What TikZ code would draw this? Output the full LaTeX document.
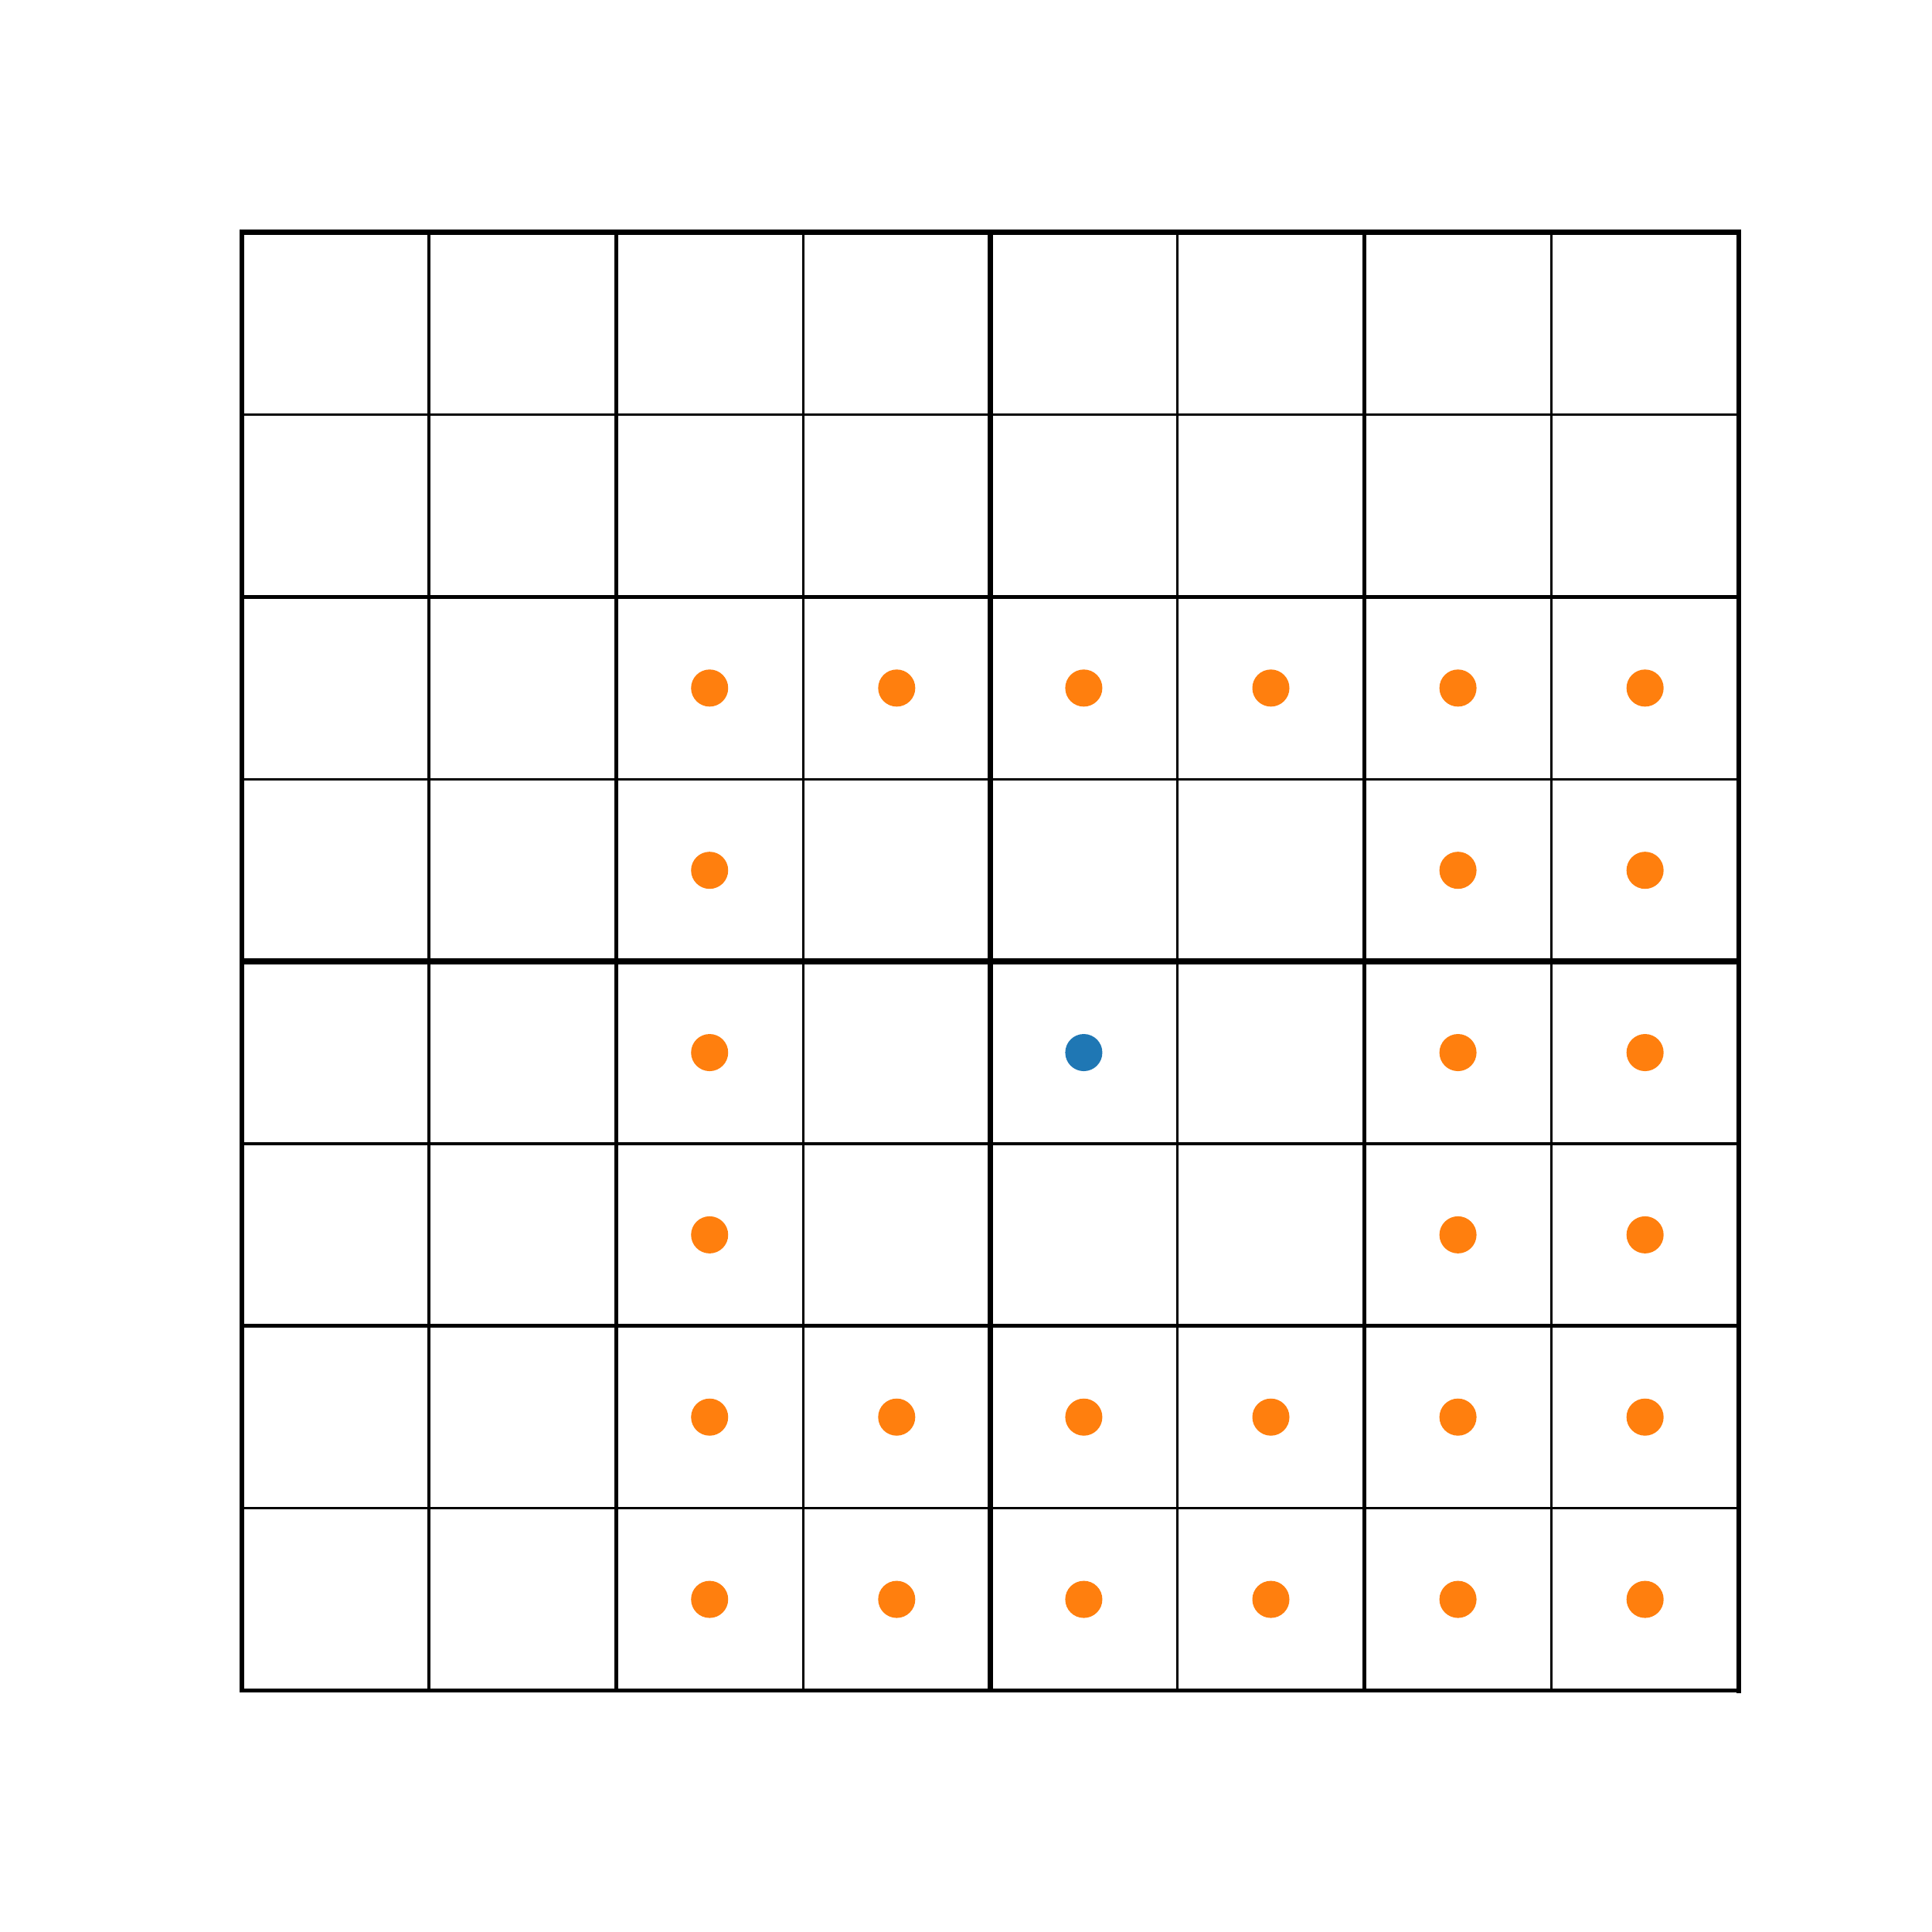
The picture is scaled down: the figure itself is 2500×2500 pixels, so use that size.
\documentclass[tikz,border=0pt]{standalone}
\definecolor{dotorange}{HTML}{FF7F0E}
\definecolor{dotblue}{HTML}{1F77B4}
\tikzset{
  thinline/.style={line width=0.94pt, line cap=butt},
  midline/.style={line width=1.5pt, line cap=butt},
  boldline/.style={line width=2.1pt, line cap=butt},
  odot/.style={circle, fill=dotorange, draw=none, inner sep=0pt, minimum size=0.48cm},
  bdot/.style={circle, fill=dotblue, draw=none, inner sep=0pt, minimum size=0.48cm}
}
\begin{document}
\begin{tikzpicture}[x=0.01cm, y=-0.01cm]
\useasboundingbox (0,0) rectangle (2500,2500);
\pgfmathsetmacro{\xo}{313}
\pgfmathsetmacro{\dx}{242.09}
\pgfmathsetmacro{\yo}{300.7}
\pgfmathsetmacro{\dy}{235.85}
\pgfmathsetmacro{\xe}{\xo+8*\dx}
\pgfmathsetmacro{\ye}{\yo+8*\dy}
% thin lines
\foreach \i in {1,3,5,7} {
  \draw[thinline] ({\xo+\i*\dx},\yo) -- ({\xo+\i*\dx},\ye);
  \draw[thinline] (\xo,{\yo+\i*\dy}) -- (\xe,{\yo+\i*\dy});
}
% medium lines
\foreach \i in {2,6} {
  \draw[midline] ({\xo+\i*\dx},\yo) -- ({\xo+\i*\dx},\ye);
  \draw[midline] (\xo,{\yo+\i*\dy}) -- (\xe,{\yo+\i*\dy});
}
% bold middle lines
\draw[boldline] ({\xo+4*\dx},\yo) -- ({\xo+4*\dx},\ye);
\draw[boldline] (\xo,{\yo+4*\dy}) -- (\xe,{\yo+4*\dy});
% border
\draw[line width=1.5pt, line cap=rect] (\xo,\yo) -- (\xo,\ye);
\draw[line width=1.7pt, line cap=rect] (\xe,\yo) -- (\xe,\ye);
\draw[line width=1.9pt, line cap=rect] (\xo,\yo) -- (\xe,\yo);
\draw[line width=1.45pt, line cap=rect] (\xo,\ye) -- (\xe,\ye);
% dots
\foreach \r/\c in {2/2,2/3,2/4,2/5,2/6,2/7,
                   3/2,3/6,3/7,
                   4/2,4/6,4/7,
                   5/2,5/6,5/7,
                   6/2,6/3,6/4,6/5,6/6,6/7,
                   7/2,7/3,7/4,7/5,7/6,7/7} {
  \node[odot] (d\r\c) at ({\xo+(\c+0.5)*\dx},{\yo+(\r+0.5)*\dy}) {};
}
\node[bdot] (d44) at ({\xo+4.5*\dx},{\yo+4.5*\dy}) {};
\end{tikzpicture}
\end{document}
